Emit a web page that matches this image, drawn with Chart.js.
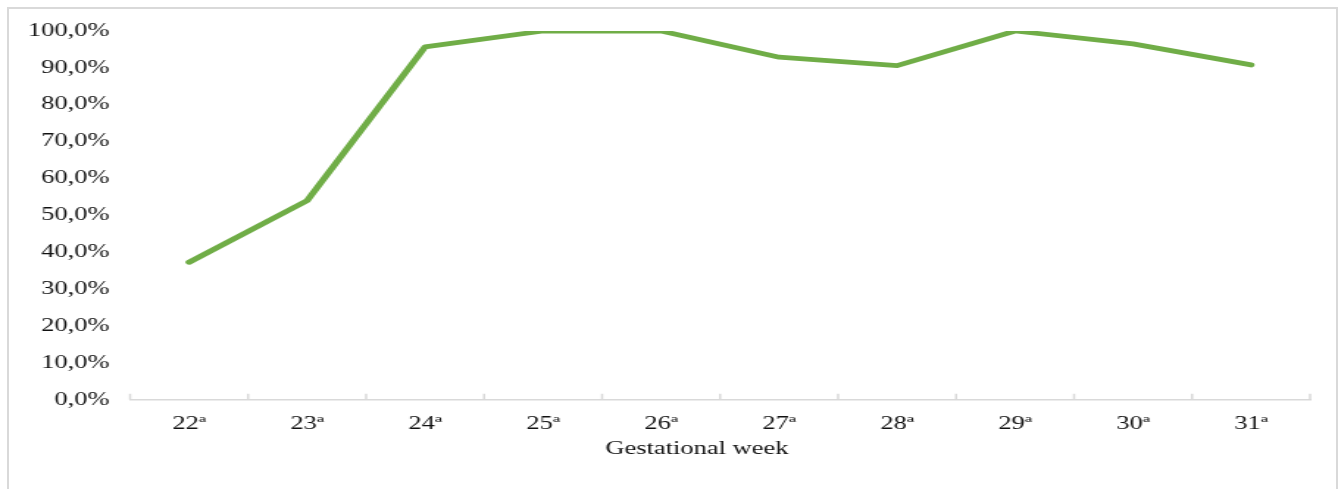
<!DOCTYPE html>
<html>
<head>
<meta charset="utf-8">
<script src="https://cdn.jsdelivr.net/npm/chart.js@4.4.1/dist/chart.umd.min.js"></script>
<style>
  body { margin:0; background:#fff; width:1338px; height:489px; overflow:hidden; position:relative; }
  #frame { position:absolute; left:7px; top:7px; width:1331px; height:520px; border:2px solid #d9d9d9; box-sizing:border-box; }
  /* the reference is stretched sideways, so the chart is drawn narrow and scaled */
  #wrap { position:absolute; left:0; top:0; width:910px; height:489px; transform:scaleX(1.4703); transform-origin:0 0; }
</style>
</head>
<body>
<div id="frame"></div>
<div id="wrap"><canvas id="mychart"></canvas></div>
<script>
var weeks = ["22ª","23ª","24ª","25ª","26ª","27ª","28ª","29ª","30ª","31ª"]
var rate = [37.3, 54.0, 95.7, 100, 100, 92.9, 90.6, 100, 96.5, 90.8]
var yTicks = [0,10,20,30,40,50,60,70,80,90,100]

var serif = "'Liberation Serif','Times New Roman',serif"

// small tick marks pointing up from the x axis, at category edges
var upTicks = {
  id:'upTicks',
  afterDraw:function(chart){
    var xs = chart.scales.x
    var ctx = chart.ctx
    var n = weeks.length
    ctx.save()
    ctx.strokeStyle = '#d9d9d9'
    ctx.lineWidth = 1.5
    ctx.beginPath()
    for (var i = 0; i <= n; i++) {
      var x = xs.left + i * xs.width / n
      ctx.moveTo(x, xs.top)
      ctx.lineTo(x, xs.top - 6)
    }
    ctx.stroke()
    ctx.restore()
  }
}

var mychart = document.getElementById('mychart').getContext('2d')
var chart = new Chart(mychart, {
  type:'line',
  data:{
    labels:weeks,
    datasets:[{
      data:rate,
      borderColor:'#70ad47',
      borderWidth:4.8,
      pointRadius:0,
      borderCapStyle:'round',
      borderJoinStyle:'round',
      tension:0
    }]
  },
  options:{
    responsive:true,
    maintainAspectRatio:false,
    animation:false,
    layout:{padding:{left:5, right:19, top:31, bottom:29}},
    plugins:{legend:{display:false}, tooltip:{enabled:false}},
    scales:{
      x:{
        offset:true,
        grid:{display:false, drawTicks:false},
        border:{color:'#d9d9d9', width:1.5},
        ticks:{color:'#111', font:{family:serif, size:18}, padding:14, maxRotation:0},
        // trailing spaces nudge the title left, as in the source
        title:{display:true, text:'Gestational week       ', color:'#111', font:{family:serif, size:18}, padding:{top:-11, bottom:0}}
      },
      y:{
        min:0, max:100,
        afterBuildTicks:function(axis){ axis.ticks = yTicks.map(function(v){ return {value:v} }) },
        grid:{display:false, drawTicks:false},
        border:{display:false},
        ticks:{
          color:'#111', font:{family:serif, size:18}, padding:14,
          callback:function(v){ return v.toFixed(1).replace('.', ',') + '%' }
        }
      }
    }
  },
  plugins:[upTicks]
})
</script>
</body>
</html>
